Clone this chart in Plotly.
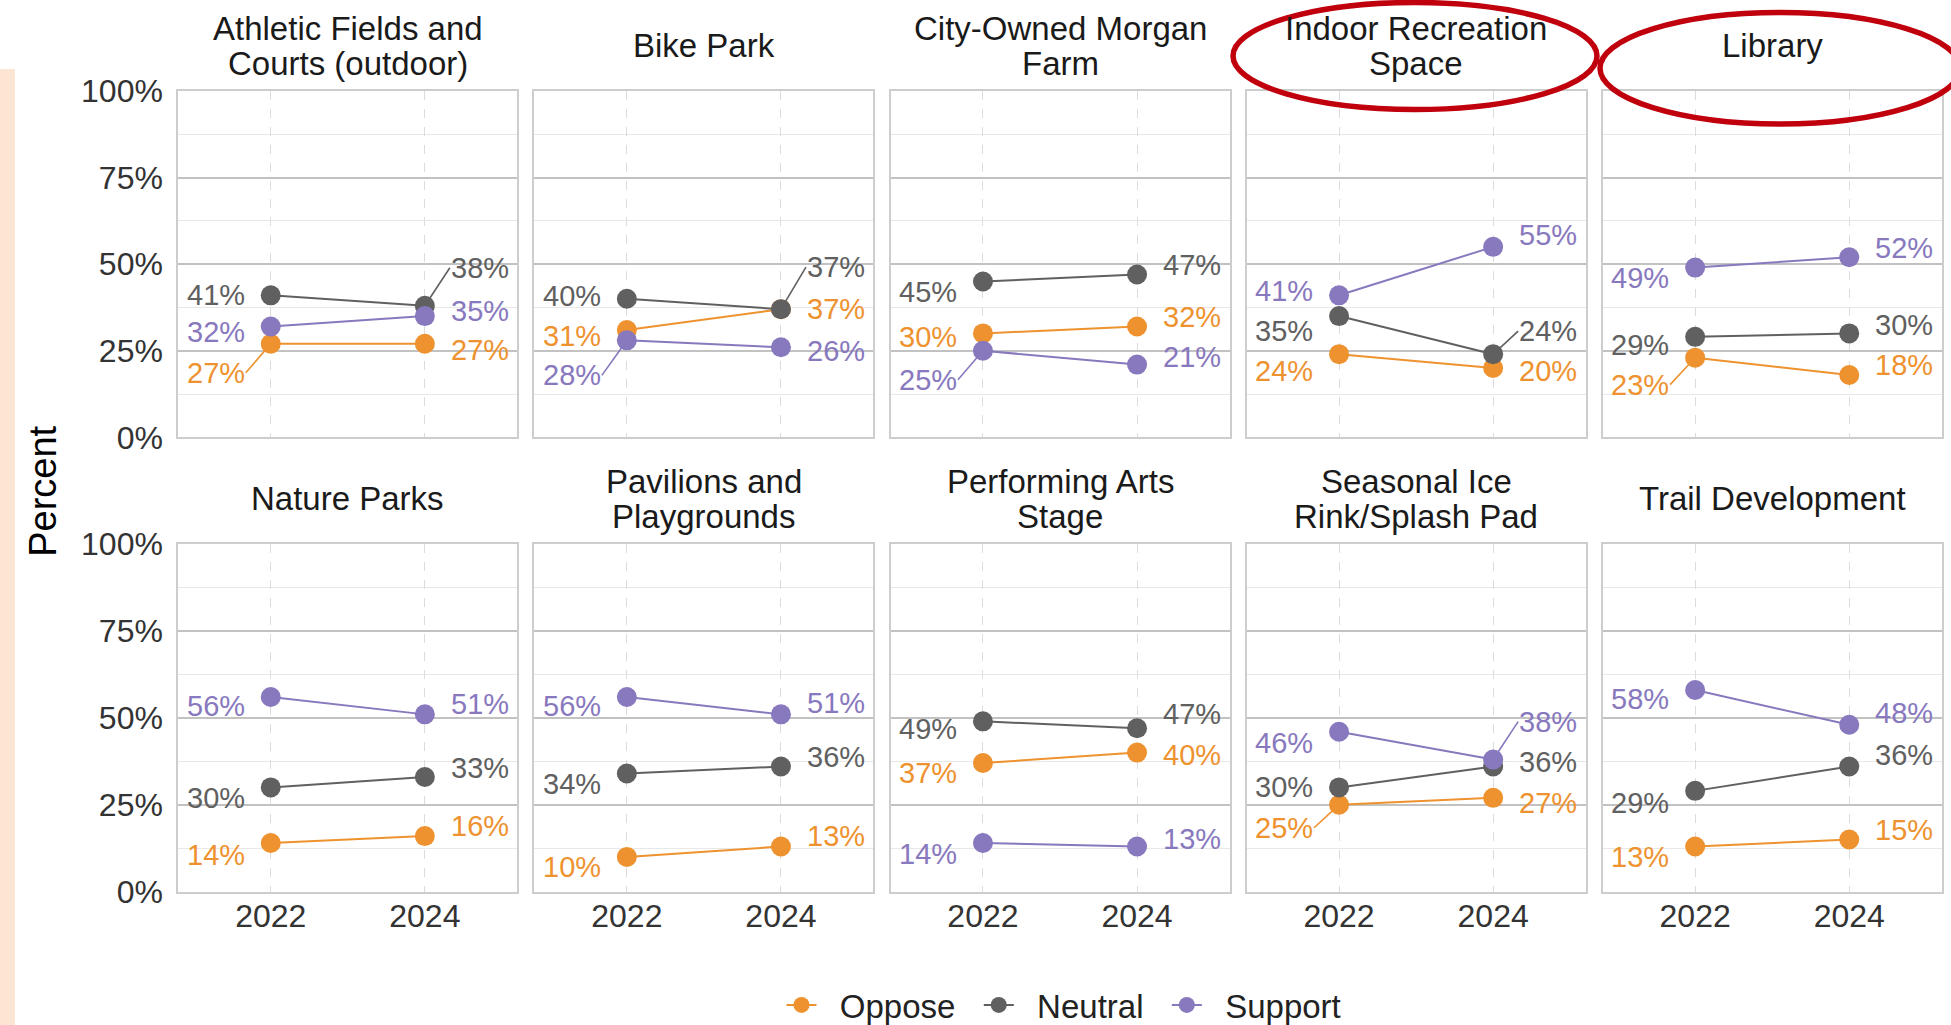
import plotly.graph_objects as go

# ---- data -------------------------------------------------------------
facilities = [
    "Athletic Fields and\nCourts (outdoor)",
    "Bike Park",
    "City-Owned Morgan\nFarm",
    "Indoor Recreation\nSpace",
    "Library",
    "Nature Parks",
    "Pavilions and\nPlaygrounds",
    "Performing Arts\nStage",
    "Seasonal Ice\nRink/Splash Pad",
    "Trail Development",
]
years = [2022, 2024]
series_names = ["Oppose", "Neutral", "Support"]

# percent of respondents, [2022, 2024] per facility
oppose = [[27, 27], [31, 37], [30, 32], [24, 20], [23, 18],
          [14, 16], [10, 13], [37, 40], [25, 27], [13, 15]]
neutral = [[41, 38], [40, 37], [45, 47], [35, 24], [29, 30],
           [30, 33], [34, 36], [49, 47], [30, 36], [29, 36]]
support = [[32, 35], [28, 26], [25, 21], [41, 55], [49, 52],
           [56, 51], [56, 51], [14, 13], [46, 38], [58, 48]]

y_tick_values = [0, 25, 50, 75, 100]
y_tick_labels = ["0%", "25%", "50%", "75%", "100%"]
x_tick_labels = ["2022", "2024"]

# ---- styling ----------------------------------------------------------
W, H = 1951, 1025
FONT = "Liberation Sans, Arial, Helvetica, sans-serif"
colors = {"Oppose": "#EE922F", "Neutral": "#606060", "Support": "#8878BE"}
values = {"Oppose": oppose, "Neutral": neutral, "Support": support}

# vertical label nudges in pixels (2022, 2024), repel-style placement
label_dy = {
    "Oppose": [[29, 6], [6, 0], [4, -9], [17, 3], [27, -10],
               [12, -10], [10, -11], [10, 2], [23, 5], [10, -10]],
    "Neutral": [[0, -38], [-3, -42], [11, -10], [15, -23], [8, -8],
                [11, -9], [11, -10], [8, -14], [0, -5], [12, -12]],
    "Support": [[6, -5], [35, 4], [29, -8], [-4, -12], [10, -9],
                [9, -10], [9, -11], [11, -8], [11, -38], [9, -12]],
}

# panel geometry in pixels
panel_left0 = 178.3
panel_w = 339.0
panel_step = 356.1
row_tops = [91.0, 544.0]
row_bottoms = [437.3, 891.7]


def px_x(p):
    return p / W


def px_y(p):
    return 1 - p / H


fig = go.Figure()
layout_axes = {}
annotations = []

for i, name in enumerate(facilities):
    r, c = divmod(i, 5)
    k = i + 1
    xa = "x" if k == 1 else f"x{k}"
    ya = "y" if k == 1 else f"y{k}"
    left = panel_left0 + c * panel_step
    right = left + panel_w

    # connecting lines first, points on top
    for s in series_names:
        fig.add_trace(go.Scatter(
            x=years, y=values[s][i], mode="lines", xaxis=xa, yaxis=ya,
            line=dict(color=colors[s], width=2), showlegend=False,
            hoverinfo="skip"))
    for s in series_names:
        fig.add_trace(go.Scatter(
            x=years, y=values[s][i], mode="markers", xaxis=xa, yaxis=ya,
            marker=dict(color=colors[s], size=20, line=dict(width=0)),
            showlegend=False, name=s))

    # value labels
    for s in series_names:
        for j, yr in enumerate(years):
            v = values[s][i][j]
            dy = label_dy[s][i][j]
            seg = abs(dy) >= 20
            annotations.append(dict(
                x=yr, y=v, xref=xa, yref=ya,
                text=f"{v}%", showarrow=True,
                ax=-25 if j == 0 else 25, ay=dy,
                xanchor="right" if j == 0 else "left", yanchor="middle",
                arrowhead=0, arrowwidth=1.6, standoff=9,
                arrowcolor=colors[s] if seg else "rgba(0,0,0,0)",
                font=dict(family=FONT, size=29, color=colors[s]),
                borderpad=0))

    # facet strip title
    lines = name.split("\n")
    centre = row_tops[r] - 45.5
    for li, txt in enumerate(lines):
        off = (li - (len(lines) - 1) / 2) * 35
        annotations.append(dict(
            x=px_x((left + right) / 2), y=px_y(centre + off),
            xref="paper", yref="paper", text=txt, showarrow=False,
            xanchor="center", yanchor="middle",
            font=dict(family=FONT, size=33, color="#1A1A1A")))

    layout_axes["xaxis" if k == 1 else f"xaxis{k}"] = dict(
        domain=[px_x(left), px_x(right)], anchor=ya, automargin=False,
        range=[2020.8, 2025.2], tickvals=years, ticktext=x_tick_labels,
        showticklabels=(r == 1), ticks="", ticklen=0, ticklabelstandoff=-5,
        tickfont=dict(family=FONT, size=32, color="#333333"),
        showgrid=True, gridcolor="#DCDCDC", gridwidth=1.3, griddash="dash",
        zeroline=False, showline=True, mirror=True,
        linecolor="#CDCDCD", linewidth=2)
    layout_axes["yaxis" if k == 1 else f"yaxis{k}"] = dict(
        domain=[px_y(row_bottoms[r]), px_y(row_tops[r])], anchor=xa,
        automargin=False,
        range=[0, 100], tickvals=y_tick_values, ticktext=y_tick_labels,
        showticklabels=(c == 0), ticks="", ticklabelstandoff=7,
        tickfont=dict(family=FONT, size=32, color="#333333"),
        showgrid=True, gridcolor="#C2C2C2", gridwidth=1.8,
        minor=dict(dtick=12.5, tick0=0, showgrid=True,
                   gridcolor="#E8E8E8", gridwidth=1.3),
        zeroline=False, showline=True, mirror=True,
        linecolor="#CDCDCD", linewidth=2)

# legend entries (non-breaking spaces pad the item spacing)
NB = "\u00a0"
for s in series_names:
    fig.add_trace(go.Scatter(
        x=[None], y=[None], mode="lines+markers",
        name=NB * 2 + s + NB * 2,
        line=dict(color=colors[s], width=2),
        marker=dict(color=colors[s], size=20), showlegend=True))

# shared y-axis title
annotations.append(dict(
    x=px_x(43.5), y=px_y((row_tops[0] + row_bottoms[1]) / 2),
    xref="paper", yref="paper", text="Percent", showarrow=False,
    textangle=-90, xanchor="center", yanchor="middle",
    font=dict(family=FONT, size=38, color="#000000")))

shapes = [
    # peach band on the left edge
    dict(type="rect", xref="paper", yref="paper",
         x0=0, x1=px_x(15), y0=0, y1=px_y(69),
         fillcolor="#FDE5D4", line=dict(width=0), layer="below"),
    # highlight rings around two facility titles
    dict(type="circle", xref="paper", yref="paper",
         x0=px_x(1233), x1=px_x(1597), y0=px_y(109.5), y1=px_y(2.5),
         line=dict(color="#C0000C", width=5.5)),
    dict(type="circle", xref="paper", yref="paper",
         x0=px_x(1600), x1=px_x(1960), y0=px_y(124), y1=px_y(12.5),
         line=dict(color="#C0000C", width=5.5)),
]

fig.update_layout(
    width=W, height=H,
    margin=dict(l=0, r=0, t=0, b=0, pad=0, autoexpand=False),
    paper_bgcolor="white", plot_bgcolor="white",
    font=dict(family=FONT, color="#333333"),
    showlegend=True,
    legend=dict(orientation="h", x=px_x(1073), xanchor="center",
                y=px_y(1005), yanchor="middle",
                font=dict(family=FONT, size=33, color="#222222"),
                itemsizing="trace", bgcolor="rgba(0,0,0,0)"),
    annotations=annotations, shapes=shapes, **layout_axes)

fig.write_html("out.html")
